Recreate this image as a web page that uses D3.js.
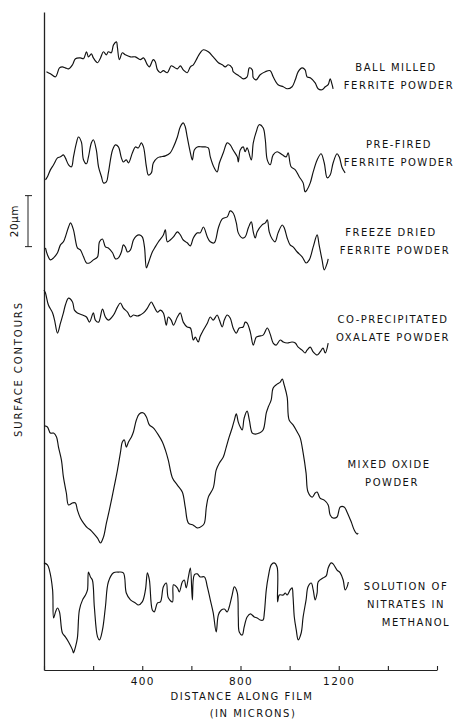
<!DOCTYPE html>
<html>
<head>
<meta charset="utf-8">
<style>
  body { margin: 0; background: #fff; }
  svg text { font-family: "DejaVu Sans", sans-serif; fill: #111; }
</style>
</head>
<body>
<svg width="456" height="720"></svg>
<script src="https://cdnjs.cloudflare.com/ajax/libs/d3/7.8.5/d3.min.js"></script>
<script>
    // surface profiles: [distance along film (microns), height (microns)]
    var ballMilled = [[10,7.1],[26,6.3],[47,5.1],[63,8.6],[75,9.0],[87,8.6],[100,8.2],[116,9.8],[128,12.2],[148,12.5],[161,12.2],[173,14.9],[181,12.9],[193,14.1],[201,12.5],[218,10.6],[230,12.5],[242,14.9],[254,13.7],[262,14.9],[274,14.5],[283,17.6],[295,18.8],[299,16.5],[307,11.8],[319,14.5],[331,13.7],[352,12.9],[372,12.9],[392,11.8],[405,12.5],[421,9.8],[429,9.0],[445,11.8],[453,11.0],[462,7.8],[474,6.7],[486,7.5],[502,6.7],[518,9.4],[527,9.0],[543,8.2],[555,9.4],[567,7.8],[583,6.7],[596,9.0],[608,9.8],[624,12.5],[636,14.5],[649,15.7],[669,14.9],[689,12.9],[710,10.6],[726,9.8],[738,9.0],[750,9.8],[766,8.6],[770,7.1],[787,5.9],[799,5.1],[811,4.3],[827,5.1],[836,8.6],[848,7.8],[852,4.7],[864,3.9],[880,5.9],[901,7.1],[921,7.5],[933,5.1],[953,2.0],[974,1.2],[990,0.4],[1010,1.2],[1023,3.9],[1035,7.1],[1051,8.6],[1063,7.8],[1071,5.1],[1084,4.7],[1104,2.7],[1116,0.4],[1132,0],[1145,1.2],[1157,2.0],[1165,4.3],[1173,2.0],[1177,0.4]];

    var preFired = [[6,5.9],[14,7.1],[26,9.8],[39,11.8],[55,14.5],[67,14.9],[79,15.7],[87,14.5],[100,11.8],[112,11.0],[120,14.9],[132,20.4],[140,22.7],[152,20.8],[161,13.7],[173,12.2],[181,14.9],[193,20.4],[201,21.6],[213,17.6],[222,11.0],[234,7.1],[242,4.7],[254,5.1],[262,8.6],[279,17.6],[291,19.6],[303,18.8],[315,14.5],[323,12.9],[335,13.7],[344,12.5],[360,16.5],[372,18.8],[384,18.4],[396,20.4],[405,18.8],[417,11.0],[425,7.8],[437,8.6],[445,12.5],[462,14.5],[474,14.9],[494,15.3],[514,16.5],[527,18.8],[543,22.7],[555,26.7],[567,28.2],[575,26.7],[583,22.7],[596,16.5],[604,13.7],[612,17.6],[624,18.8],[644,18.8],[657,18.8],[669,18.4],[677,14.9],[693,10.6],[705,9.0],[714,12.5],[730,16.5],[746,20.4],[758,19.6],[770,17.6],[787,14.9],[791,12.9],[799,17.6],[811,18.8],[819,16.9],[827,18.4],[844,13.7],[852,20.4],[864,24.7],[876,27.5],[892,26.3],[901,21.6],[909,13.7],[921,11.8],[933,15.7],[949,16.9],[970,15.7],[986,14.9],[994,16.5],[1006,11.0],[1023,9.8],[1039,7.1],[1055,4.7],[1063,1.2],[1071,2.0],[1084,4.7],[1096,9.0],[1112,13.7],[1128,16.1],[1141,12.5],[1153,6.7],[1165,7.8],[1177,12.5],[1193,16.1],[1202,14.9],[1214,10.6],[1226,8.6]];

    var freezeDried = [[6,9.4],[14,6.7],[26,4.7],[39,5.5],[55,7.5],[67,10.6],[79,11.8],[87,13.7],[100,17.6],[108,19.2],[120,16.5],[128,12.5],[136,9.4],[148,8.6],[161,5.9],[173,3.5],[185,3.5],[201,4.7],[218,5.9],[226,11.8],[238,12.9],[250,9.8],[262,9.4],[279,7.5],[291,5.1],[303,5.5],[315,7.8],[323,10.6],[331,9.8],[340,7.8],[352,8.6],[364,12.5],[376,14.1],[388,14.5],[400,13.7],[409,9.8],[417,1.6],[425,3.5],[441,7.8],[453,9.8],[466,11.8],[486,14.5],[494,16.5],[502,11.8],[514,12.5],[527,13.7],[543,15.7],[555,14.5],[567,12.5],[583,11.4],[596,10.2],[608,13.3],[624,15.3],[636,15.3],[649,17.6],[665,13.7],[677,11.8],[693,11.4],[710,17.3],[726,20.8],[746,21.6],[758,23.9],[770,23.1],[783,19.2],[791,15.3],[807,13.3],[819,13.7],[832,17.3],[844,19.6],[852,15.7],[860,13.3],[868,15.7],[888,18.4],[901,19.2],[909,20.4],[917,15.7],[929,12.9],[941,11.8],[953,15.3],[970,18.4],[978,17.3],[990,13.3],[1002,10.6],[1014,9.8],[1031,7.8],[1051,5.9],[1067,3.5],[1080,4.7],[1096,9.8],[1112,14.5],[1120,10.6],[1132,4.7],[1141,0.8],[1153,3.5],[1157,5.1]];

    var coPrecipitated = [[0,26.3],[6,25.1],[18,20.4],[35,17.3],[43,14.5],[55,9.4],[67,13.3],[79,17.3],[87,20.4],[100,23.1],[116,21.6],[124,18.4],[136,17.3],[157,16.5],[173,15.7],[185,13.7],[201,17.3],[209,14.5],[222,13.7],[238,18.8],[250,15.7],[262,14.5],[283,16.5],[299,19.6],[311,21.2],[323,19.2],[340,17.6],[352,15.7],[364,16.5],[380,16.1],[392,16.5],[405,17.3],[421,19.2],[437,21.6],[445,20.4],[462,17.6],[474,18.4],[486,17.3],[498,12.5],[506,15.7],[518,14.5],[527,12.5],[543,15.7],[555,17.3],[567,13.7],[583,11.8],[596,11.4],[608,6.7],[616,7.8],[628,5.9],[636,8.2],[649,10.6],[665,13.3],[677,15.7],[689,14.5],[705,16.5],[714,14.5],[726,11.8],[734,14.5],[746,16.5],[758,15.3],[770,11.4],[783,9.4],[795,11.4],[811,11.8],[819,13.7],[827,13.3],[840,9.8],[852,4.7],[864,7.8],[876,8.2],[892,8.6],[909,11.4],[921,9.0],[933,5.5],[945,4.7],[962,6.7],[974,5.9],[990,5.5],[1010,5.9],[1023,5.5],[1035,3.9],[1051,2.7],[1063,1.6],[1071,2.7],[1084,3.9],[1096,2.0],[1112,0.8],[1124,2.0],[1136,3.5],[1145,1.6],[1157,5.5]];

    var mixedOxide = [[2,46.7],[14,46.3],[26,43.9],[39,43.9],[51,42.4],[59,38.4],[71,33.3],[79,26.7],[91,20.4],[100,15.7],[116,16.5],[128,16.5],[136,13.7],[148,10.6],[161,8.6],[177,6.7],[189,5.9],[201,4.7],[218,2.7],[230,0.8],[242,3.1],[254,8.6],[266,13.7],[283,21.6],[299,29.4],[311,36.1],[319,40.4],[327,41.2],[335,38.4],[344,40.4],[356,42.4],[364,44.3],[376,49.0],[388,51.4],[405,51.8],[417,50.2],[429,47.1],[445,45.9],[466,43.1],[482,40.4],[494,37.3],[506,33.3],[523,26.3],[543,23.5],[563,20.8],[575,14.9],[588,8.6],[608,7.8],[624,6.7],[644,7.5],[653,8.6],[661,14.9],[669,18.8],[689,22.4],[701,29.4],[714,32.2],[730,34.5],[742,38.4],[754,42.4],[766,45.9],[775,49.0],[783,51.4],[791,48.2],[799,46.3],[807,45.1],[815,49.8],[827,52.5],[836,49.0],[848,43.9],[860,43.5],[876,43.9],[892,45.1],[905,51.8],[913,54.1],[925,56.9],[933,61.6],[949,63.1],[962,63.9],[970,65.1],[978,62.7],[990,58.0],[998,49.0],[1014,47.1],[1031,44.3],[1043,42.0],[1055,36.1],[1067,28.2],[1075,20.8],[1092,18.8],[1104,20.4],[1112,20.8],[1124,18.4],[1141,17.6],[1157,15.7],[1165,11.8],[1177,10.6],[1193,11.0],[1206,14.9],[1222,14.9],[1234,12.9],[1251,9.0],[1263,5.9],[1275,4.3],[1279,4.7]];

    var nitrates = [[0,36.1],[14,35.3],[22,33.3],[35,25.5],[39,14.5],[47,16.9],[55,18.4],[63,16.9],[75,8.6],[87,7.1],[100,5.1],[116,2.0],[120,0.8],[128,3.1],[136,6.7],[144,17.6],[157,21.6],[169,23.5],[177,25.5],[181,32.5],[189,30.6],[197,29.4],[205,18.8],[218,7.1],[226,5.9],[238,9.8],[250,18.8],[262,28.6],[283,32.2],[303,32.5],[323,32.2],[335,24.3],[352,21.6],[372,20.4],[384,19.6],[400,20.8],[413,25.5],[421,32.2],[429,29.4],[441,17.6],[449,16.9],[462,20.4],[474,20.8],[486,26.7],[498,28.2],[506,22.4],[523,20.8],[527,27.5],[543,26.3],[551,24.7],[563,28.6],[571,29.4],[579,26.3],[588,30.6],[596,34.1],[604,21.6],[612,31.4],[624,31.8],[636,30.6],[653,30.6],[665,26.7],[677,21.6],[689,16.5],[701,9.0],[710,15.7],[722,17.6],[734,18.0],[746,16.9],[754,18.8],[766,23.5],[775,26.7],[787,24.3],[791,14.9],[795,9.0],[807,7.8],[815,11.0],[827,14.9],[840,16.1],[856,14.9],[868,14.5],[880,13.7],[892,13.7],[897,16.5],[905,25.5],[913,30.6],[925,35.3],[937,36.1],[949,34.5],[951,20.8],[958,23.5],[974,23.5],[982,24.3],[990,23.5],[1002,25.5],[1010,26.3],[1014,22.7],[1019,14.9],[1027,9.8],[1035,5.9],[1047,8.6],[1055,14.9],[1067,21.6],[1075,26.7],[1088,28.2],[1096,25.5],[1104,21.6],[1112,24.3],[1116,28.6],[1136,30.2],[1149,31.0],[1157,34.1],[1169,36.1],[1177,35.7],[1193,33.3],[1206,32.2],[1218,29.4],[1226,25.5],[1234,26.7],[1239,28.6]];

    var profileNames = [
        ["BALL MILLED", "FERRITE POWDER"],
        ["PRE-FIRED", "FERRITE POWDER"],
        ["FREEZE DRIED", "FERRITE POWDER"],
        ["CO-PRECIPITATED", "OXALATE POWDER"],
        ["MIXED OXIDE", "POWDER"],
        ["SOLUTION OF", "NITRATES IN", "METHANOL"]
    ];
    var tickLabels = [400, 800, 1200];
    var scaleBarMicrons = 20;

    var profiles = [ballMilled, preFired, freezeDried, coPrecipitated, mixedOxide, nitrates];

    // layout: where each trace sits on the stacked height scale (microns), and its label
    var offsets = [227.5, 186.3, 156.1, 122.7, 49.0, 5.9];
    var labelPos = [
        { x: 396, y: 71, dx: [0, 3] },
        { x: 399, y: 148, dx: [0, 0] },
        { x: 391, y: 236, dx: [0, 4] },
        { x: 393, y: 323, dx: [0, 0] },
        { x: 389, y: 468, dx: [0, 3] },
        { x: 406, y: 590, dx: [0, 0, 10] }
    ];

    var svg = d3.select("svg");

    var x = d3.scaleLinear().domain([0, 1600]).range([44, 437]),
        y = d3.scaleLinear().domain([0, 258]).range([670, 12]);

    var line = d3.line()
        .curve(d3.curveCatmullRom.alpha(0.5))
        .x(function (d) { return x(d[0]); })
        .y(function (d) { return y(d[1]); });

    // axes
    var xAxis = svg.append("g")
        .attr("transform", "translate(0," + y(0) + ")")
        .call(d3.axisBottom(x)
            .tickValues(d3.range(0, 1601, 200))
            .tickSizeInner(-4)
            .tickSizeOuter(0)
            .tickPadding(8)
            .tickFormat(function (d) { return tickLabels.indexOf(d) >= 0 ? d : ""; }));
    xAxis.select(".domain").attr("stroke", "#222").attr("stroke-width", 1.2);
    xAxis.selectAll(".tick line").attr("stroke", "#222").attr("stroke-width", 1.1);
    xAxis.selectAll(".tick text")
        .attr("font-family", null)
        .style("font-size", "10.5px")
        .style("letter-spacing", "1.4px");

    var yAxis = svg.append("g")
        .attr("transform", "translate(" + x(0) + ",0)")
        .call(d3.axisLeft(y).tickValues([]).tickSizeOuter(0));
    yAxis.select(".domain").attr("stroke", "#222").attr("stroke-width", 1.3);

    // profiles
    svg.selectAll(".profile")
        .data(profiles)
        .enter().append("path")
        .attr("class", "profile")
        .attr("fill", "none")
        .attr("stroke", "#111")
        .attr("stroke-width", 1.15)
        .attr("stroke-linejoin", "round")
        .attr("d", function (d, i) {
            return line(d.map(function (p) { return [p[0], p[1] + offsets[i]]; }));
        });

    // labels
    profileNames.forEach(function (lines, i) {
        var t = svg.append("text")
            .attr("text-anchor", "middle")
            .style("font-size", "10px")
            .style("letter-spacing", "1.5px");
        lines.forEach(function (s, j) {
            t.append("tspan")
                .attr("x", labelPos[i].x + labelPos[i].dx[j])
                .attr("y", labelPos[i].y + j * 18)
                .text(s);
        });
    });

    // 20 micron scale bar
    var barBase = 166, barX = 28;
    svg.append("line")
        .attr("x1", barX).attr("x2", barX)
        .attr("y1", y(barBase)).attr("y2", y(barBase + scaleBarMicrons))
        .attr("stroke", "#222").attr("stroke-width", 1);
    [barBase, barBase + scaleBarMicrons].forEach(function (v) {
        svg.append("line")
            .attr("x1", barX - 3).attr("x2", barX + 4)
            .attr("y1", y(v)).attr("y2", y(v))
            .attr("stroke", "#222").attr("stroke-width", 1);
    });
    svg.append("text")
        .attr("transform", "translate(18," + y(barBase + scaleBarMicrons / 2) + ") rotate(-90)")
        .attr("text-anchor", "middle")
        .style("font-size", "10.5px")
        .style("letter-spacing", "0.5px")
        .text(scaleBarMicrons + "\u00b5m");

    // axis titles
    svg.append("text")
        .attr("transform", "translate(22,369) rotate(-90)")
        .attr("text-anchor", "middle")
        .style("font-size", "10px")
        .style("letter-spacing", "1.9px")
        .text("SURFACE CONTOURS");

    svg.append("text")
        .attr("x", 242).attr("y", 700)
        .attr("text-anchor", "middle")
        .style("font-size", "10px")
        .style("letter-spacing", "1.5px")
        .text("DISTANCE ALONG FILM");

    svg.append("text")
        .attr("x", 253).attr("y", 717)
        .attr("text-anchor", "middle")
        .style("font-size", "10px")
        .style("letter-spacing", "1.5px")
        .text("(IN MICRONS)");
</script>
</body>
</html>
